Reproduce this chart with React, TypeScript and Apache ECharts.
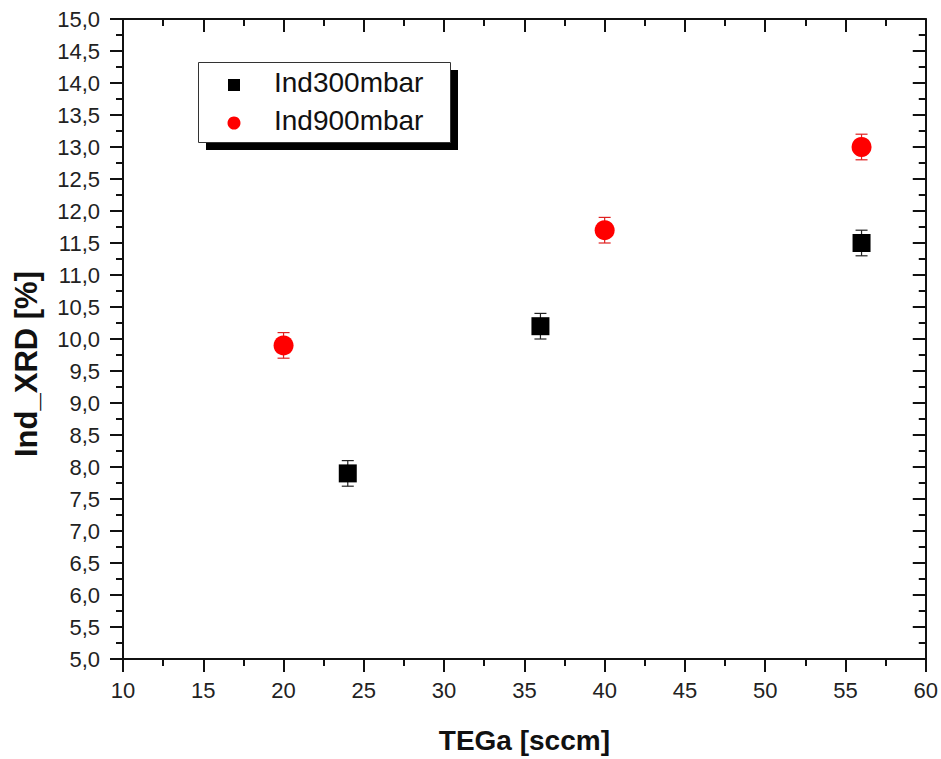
import React, { useEffect, useRef } from "react";
import * as echarts from "echarts";

const seriesNames = ["Ind300mbar", "Ind900mbar"];
const teGa300 = [24, 36, 56];
const ind300 = [7.9, 10.2, 11.5];
const err300 = [0.2, 0.2, 0.2];
const teGa900 = [20, 40, 56];
const ind900 = [9.9, 11.7, 13.0];
const err900 = [0.2, 0.2, 0.2];
const xRange = [10, 60];
const yRange = [5, 15];
const xTitle = "TEGa [sccm]";
const yTitle = "Ind_XRD [%]";

const FONT = "'Liberation Sans', Arial, sans-serif";
const AXIS_COLOR = "#111";

function errorSeries(xs: number[], ys: number[], es: number[], color: string, z: number) {
  return {
    type: "custom",
    z,
    silent: true,
    data: xs.map((x, i) => [x, ys[i] - es[i], ys[i] + es[i]]),
    renderItem: (params: any, api: any) => {
      const x = api.value(0);
      const lo = api.coord([x, api.value(1)]);
      const hi = api.coord([x, api.value(2)]);
      const hw = 6;
      const style = { stroke: color, lineWidth: 1.2 };
      return {
        type: "group",
        children: [
          { type: "line", shape: { x1: lo[0], y1: lo[1], x2: hi[0], y2: hi[1] }, style },
          { type: "line", shape: { x1: lo[0] - hw, y1: lo[1], x2: lo[0] + hw, y2: lo[1] }, style },
          { type: "line", shape: { x1: hi[0] - hw, y1: hi[1], x2: hi[0] + hw, y2: hi[1] }, style },
        ],
      };
    },
  };
}

export default function App() {
  const ref = useRef<HTMLDivElement>(null);
  useEffect(() => {
    if (!ref.current) return;
    const chart = echarts.init(ref.current, null, { renderer: "svg" });
    const fmtY = (v: number) => v.toFixed(1).replace(".", ",");
    const baseAxis = {
      axisLine: { show: true, onZero: false, lineStyle: { color: AXIS_COLOR, width: 2 } },
      splitLine: { show: false },
    };
    chart.setOption({
      animation: false,
      backgroundColor: "#ffffff",
      grid: { left: 123, right: 14, top: 19, bottom: 98, containLabel: false },
      xAxis: [
        {
          ...baseAxis,
          type: "value",
          min: xRange[0],
          max: xRange[1],
          interval: 5,
          position: "bottom",
          name: xTitle,
          nameLocation: "middle",
          nameGap: 67,
          nameTextStyle: { fontFamily: FONT, fontSize: 28, fontWeight: "bold", color: "#111", verticalAlign: "top" },
          axisTick: { show: true, inside: false, length: 13, lineStyle: { color: AXIS_COLOR, width: 2 } },
          minorTick: { show: true, splitNumber: 2, length: 7, lineStyle: { color: AXIS_COLOR, width: 2 } },
          axisLabel: { fontFamily: FONT, fontSize: 22, color: "#222", margin: 20 },
        },
        {
          ...baseAxis,
          type: "value",
          min: xRange[0],
          max: xRange[1],
          interval: 5,
          position: "top",
          axisTick: { show: true, inside: true, length: 13, lineStyle: { color: AXIS_COLOR, width: 2 } },
          minorTick: { show: true, splitNumber: 2, length: 7, lineStyle: { color: AXIS_COLOR, width: 2 } },
          axisLabel: { show: false },
        },
      ],
      yAxis: [
        {
          ...baseAxis,
          type: "value",
          min: yRange[0],
          max: yRange[1],
          interval: 0.5,
          position: "left",
          axisTick: { show: true, inside: false, length: 13, lineStyle: { color: AXIS_COLOR, width: 2 } },
          minorTick: { show: true, splitNumber: 2, length: 7, lineStyle: { color: AXIS_COLOR, width: 2 } },
          axisLabel: { fontFamily: FONT, fontSize: 22, color: "#222", margin: 23, formatter: fmtY },
        },
        {
          ...baseAxis,
          type: "value",
          min: yRange[0],
          max: yRange[1],
          interval: 0.5,
          position: "right",
          axisTick: { show: true, inside: true, length: 13, lineStyle: { color: AXIS_COLOR, width: 2 } },
          minorTick: { show: true, splitNumber: 2, length: 7, lineStyle: { color: AXIS_COLOR, width: 2 } },
          axisLabel: { show: false },
        },
      ],
      series: [
        errorSeries(teGa300, ind300, err300, "#222", 2),
        errorSeries(teGa900, ind900, err900, "#e02020", 2),
        {
          name: seriesNames[0],
          type: "scatter",
          z: 3,
          symbol: "rect",
          symbolSize: 18,
          itemStyle: { color: "#000", opacity: 1 },
          data: teGa300.map((x, i) => [x, ind300[i]]),
        },
        {
          name: seriesNames[1],
          type: "scatter",
          z: 3,
          symbol: "circle",
          symbolSize: 20,
          itemStyle: { color: "#ff0000", opacity: 1 },
          data: teGa900.map((x, i) => [x, ind900[i]]),
        },
      ],
      graphic: [
        {
          type: "text",
          x: 26,
          y: 364,
          rotation: Math.PI / 2,
          z: 12,
          style: { text: yTitle, font: `bold 31px ${FONT}`, fill: "#111", align: "center", verticalAlign: "middle" },
        },
        { type: "rect", left: 206, top: 70, z: 10, shape: { width: 252, height: 80 }, style: { fill: "#000" } },
        { type: "rect", left: 198, top: 62, z: 11, shape: { width: 252, height: 80 }, style: { fill: "#fff", stroke: "#333", lineWidth: 1 } },
        { type: "rect", left: 228, top: 79, z: 12, shape: { width: 12, height: 12 }, style: { fill: "#000" } },
        { type: "circle", z: 12, shape: { cx: 234, cy: 123, r: 6.5 }, style: { fill: "#ff0000" } },
        { type: "text", left: 274, top: 68, z: 12, style: { text: seriesNames[0], font: `28px ${FONT}`, fill: "#111" } },
        { type: "text", left: 274, top: 106, z: 12, style: { text: seriesNames[1], font: `28px ${FONT}`, fill: "#111" } },
      ],
    });
    return () => chart.dispose();
  }, []);
  return <div ref={ref} style={{ width: 941, height: 759, position: "absolute", left: 0, top: 0 }} />;
}
